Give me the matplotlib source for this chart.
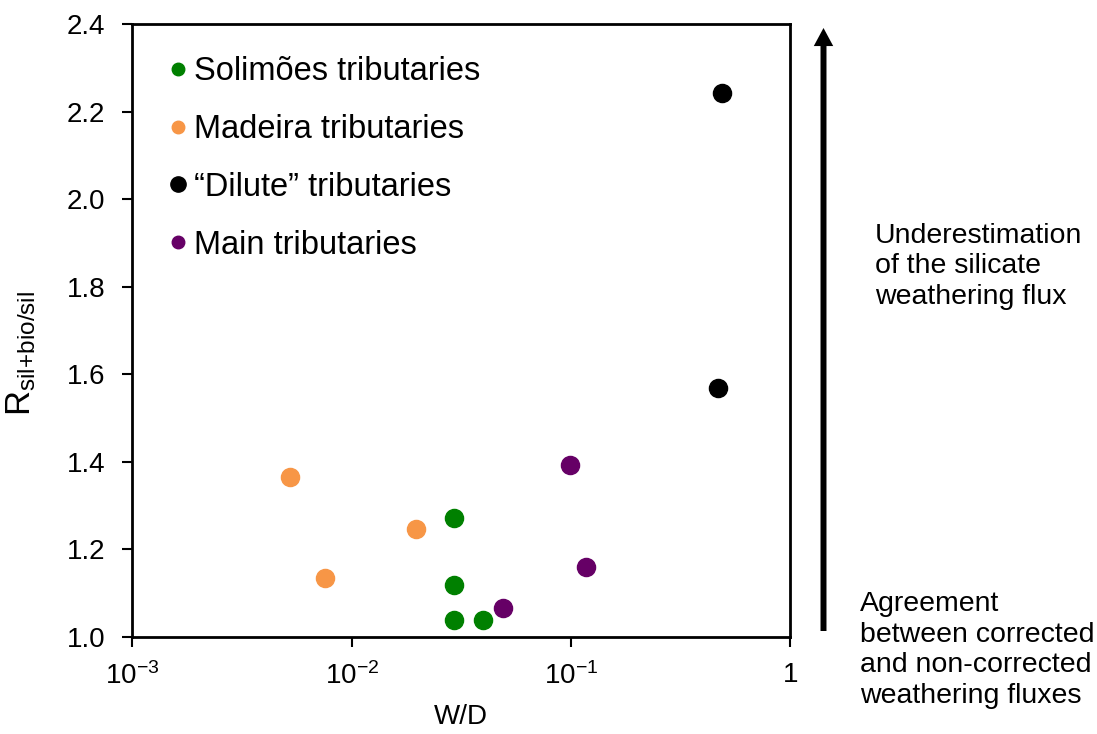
import matplotlib.pyplot as plt
from matplotlib.lines import Line2D
from matplotlib.patches import FancyArrowPatch

plt.rcParams['font.family'] = ['Liberation Sans', 'DejaVu Sans']
plt.rcParams['mathtext.fontset'] = 'custom'
plt.rcParams['mathtext.rm'] = 'Liberation Sans'
plt.rcParams['mathtext.it'] = 'Liberation Sans:italic'

# W/D and R values per tributary group
solimoes_wd = [0.0292, 0.0292, 0.0292, 0.0395]
solimoes_r = [1.272, 1.118, 1.039, 1.039]
madeira_wd = [0.00525, 0.0196, 0.00755]
madeira_r = [1.364, 1.247, 1.135]
dilute_wd = [0.489, 0.468]
dilute_r = [2.242, 1.568]
main_wd = [0.0988, 0.117, 0.0489]
main_r = [1.3925, 1.160, 1.065]

green = '#008000'
orange = '#f79646'
purple = '#660066'

fig = plt.figure(figsize=(10.97, 7.34), dpi=100)
ax = fig.add_axes([0.1207, 0.1326, 0.5997, 0.8343])

ax.scatter(solimoes_wd, solimoes_r, s=170, color=green, zorder=3)
ax.scatter(madeira_wd, madeira_r, s=170, color=orange, zorder=3)
ax.scatter(dilute_wd, dilute_r, s=170, color='black', zorder=3)
ax.scatter(main_wd, main_r, s=170, color=purple, zorder=3)

ax.set_xscale('log')
ax.set_xlim(1e-3, 1)
ax.set_ylim(1.0, 2.4)
ax.set_xticks([1e-3, 1e-2, 1e-1, 1])
ax.set_xticklabels([r'$10^{\mathregular{-3}}$', r'$10^{\mathregular{-2}}$',
                    r'$10^{\mathregular{-1}}$', '1'])
ax.minorticks_off()
ax.set_yticks([1.0, 1.2, 1.4, 1.6, 1.8, 2.0, 2.2, 2.4])
ax.set_yticklabels(['1.0', '1.2', '1.4', '1.6', '1.8', '2.0', '2.2', '2.4'])
ax.tick_params(axis='both', labelsize=20, width=1.5, length=7.5, direction='out')
ax.tick_params(axis='x', pad=11)
ax.tick_params(axis='y', pad=12)
for sp in ax.spines.values():
    sp.set_linewidth(2)

ax.set_xlabel('W/D', fontsize=20, labelpad=10)
ax.set_ylabel(r'R$_{\mathregular{sil{+}bio/sil}}$', fontsize=25)
ax.yaxis.set_label_coords(-0.143, 0.462)

handles = [
    Line2D([], [], marker='o', ls='none', color=green, markersize=9),
    Line2D([], [], marker='o', ls='none', color=orange, markersize=9),
    Line2D([], [], marker='o', ls='none', color='black', markersize=11),
    Line2D([], [], marker='o', ls='none', color=purple, markersize=9),
]
labels = ['Solimões tributaries', 'Madeira tributaries',
          '\u201cDilute\u201d tributaries', 'Main tributaries']
ax.legend(handles, labels, loc='upper left', bbox_to_anchor=(0.022, 0.985),
          frameon=False, fontsize=23.5, handlelength=0.5, handletextpad=0.25,
          labelspacing=0.82, borderpad=0.2)

# arrow and side annotations
fig.add_artist(FancyArrowPatch(
    (823.5 / 1097, 1 - 631 / 734), (823.5 / 1097, 1 - 28 / 734),
    transform=fig.transFigure,
    arrowstyle='simple,head_length=13,head_width=14,tail_width=4.3',
    mutation_scale=1, lw=0, color='black', shrinkA=0, shrinkB=0))
fig.text(875 / 1097, 1 - 223 / 734,
         'Underestimation\nof the silicate\nweathering flux',
         fontsize=20.5, ha='left', va='top', linespacing=1.22)
fig.text(860 / 1097, 1 - 591 / 734,
         'Agreement\nbetween corrected\nand non-corrected\nweathering fluxes',
         fontsize=20.5, ha='left', va='top', linespacing=1.23)

fig.savefig('out.png', dpi=100)
